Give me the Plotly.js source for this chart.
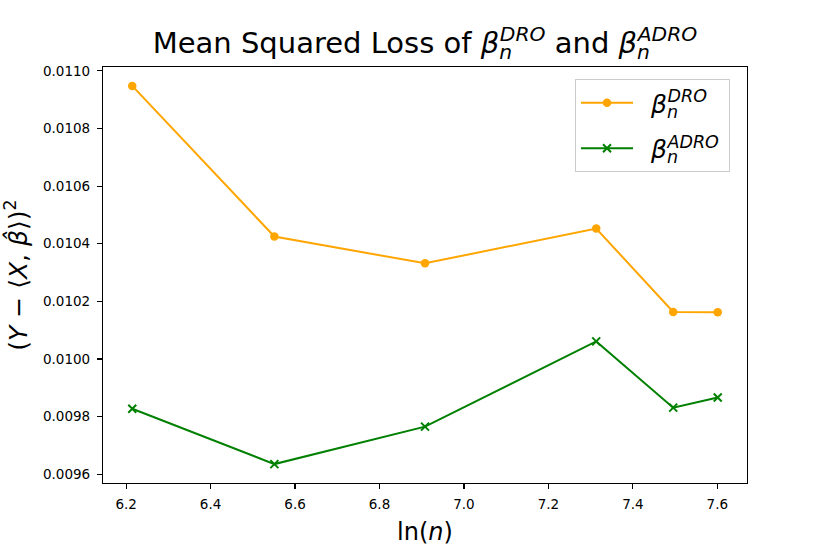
<!DOCTYPE html>
<html>
<head>
<meta charset="utf-8">
<script src="https://cdn.plot.ly/plotly-3.0.1.min.js"></script>
<style>
  html, body { margin: 0; padding: 0; background: #fff; }
  #chart { width: 830px; height: 554px; }
</style>
</head>
<body>
<div id="chart"></div>
<script>
// ln(n) for n = 500, 700, 1000, 1500, 1800, 2000
const lnN = [6.2146, 6.5511, 6.9078, 7.3132, 7.4955, 7.6009];
const lossDRO = [0.010948, 0.010425, 0.010332, 0.010453, 0.010163, 0.010162];
const lossADRO = [0.009827, 0.009635, 0.009765, 0.010061, 0.009831, 0.009866];
const supDRO = "DRO";
const supADRO = "ADRO";

function stacked(sup) {
  return "<i>β</i><sub style='letter-spacing:-0.6em'><i>n</i></sub><sup><i>" + sup + "</i></sup>";
}

function padRange(arrs) {
  const all = [].concat(...arrs);
  const mn = Math.min(...all), mx = Math.max(...all);
  const p = (mx - mn) * 0.05;
  return [mn - p, mx + p];
}

const FONT = "DejaVu Sans, sans-serif";
const LEAD = "\u00a0\u2009";

const traces = [
  {
    x: lnN, y: lossDRO, type: "scatter", mode: "lines+markers",
    name: LEAD + stacked(supDRO), legendgroup: "a",
    line: { color: "#FFA500", width: 2 },
    marker: { color: "#FFA500", size: 8.5, symbol: "circle" }
  },
  {
    x: lnN, y: lossADRO, type: "scatter", mode: "lines+markers",
    name: LEAD + stacked(supADRO) + "\u2009", legendgroup: "b",
    line: { color: "#008000", width: 2 },
    marker: { color: "#008000", size: 8, symbol: "x-thin", line: { color: "#008000", width: 2 } }
  }
];

const layout = {
  width: 830, height: 554,
  margin: { l: 103, r: 83, t: 67, b: 71, pad: 0 },
  paper_bgcolor: "#ffffff", plot_bgcolor: "#ffffff",
  font: { family: FONT, color: "#000000", size: 14 },
  showlegend: true,
  title: {
    text: "Mean Squared Loss of " + stacked(supDRO) + " and " + stacked(supADRO),
    font: { family: FONT, size: 29, color: "#000" },
    x: 0.5, xref: "paper", xanchor: "center",
    y: 1 - 43 / 554, yref: "container", yanchor: "middle"
  },
  xaxis: {
    range: padRange([lnN]),
    dtick: 0.2, tick0: 6.2, tickformat: ".1f",
    ticks: "outside", ticklen: 5, tickwidth: 1.1, tickcolor: "#000",
    ticklabelstandoff: 4,
    showline: true, linecolor: "#000", linewidth: 1.1, mirror: true,
    showgrid: false, zeroline: false,
    tickfont: { family: FONT, size: 13.5, color: "#000" },
    title: { text: "ln(<i>n</i>)", font: { family: FONT, size: 24, color: "#000" }, standoff: 11 }
  },
  yaxis: {
    range: padRange([lossDRO, lossADRO]),
    dtick: 0.0002, tick0: 0.0096, tickformat: ".4f",
    ticks: "outside", ticklen: 5, tickwidth: 1.1, tickcolor: "#000",
    ticklabelstandoff: 4,
    showline: true, linecolor: "#000", linewidth: 1.1, mirror: true,
    showgrid: false, zeroline: false,
    tickfont: { family: FONT, size: 13.5, color: "#000" },
    title: { text: "(<i>Y</i> − ⟨<i>X</i>, <i>β̂</i>⟩)<sup>2</sup>", font: { family: FONT, size: 25, color: "#000" }, standoff: 8 }
  },
  legend: {
    x: (575 - 103) / 644, y: 0.971, xanchor: "left", yanchor: "top",
    xref: "paper", yref: "paper",
    bgcolor: "rgba(255,255,255,0.8)", bordercolor: "#cccccc", borderwidth: 1,
    font: { family: FONT, size: 25, color: "#000" },
    itemwidth: 52, tracegroupgap: 10
  }
};

Plotly.newPlot("chart", traces, layout, { displayModeBar: false, staticPlot: true });
</script>
</body>
</html>
